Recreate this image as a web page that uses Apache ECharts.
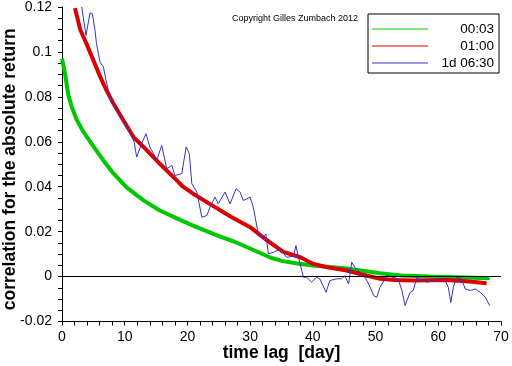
<!DOCTYPE html>
<html>
<head>
<meta charset="utf-8">
<script src="https://cdn.jsdelivr.net/npm/echarts@6/dist/echarts.min.js"></script>
<style>html,body{margin:0;padding:0;background:#fff}#c{width:512px;height:366px}</style>
</head>
<body>
<div id="c"></div>
<script>
// ---- data ----
const seriesNames = ['00:03', '01:00', '1d 06:30'];

const greenDays = [0, 0.5, 1.0, 1.5, 2.3, 3.4, 4.9, 6.6, 8.2, 10.3, 13.0, 15.6, 18.3, 20.9, 24.7, 27.5, 30.0, 33.2, 35.0, 37.5, 40.0, 45.4, 50.7, 54.0, 58.7, 63.0, 68.2];
const greenVals = [0.097, 0.090, 0.081, 0.076, 0.070, 0.0645, 0.0584, 0.0517, 0.0459, 0.0397, 0.0339, 0.0294, 0.0259, 0.0227, 0.0183, 0.0155, 0.0125, 0.0085, 0.0070, 0.0058, 0.0049, 0.0036, 0.0015, 0.0005, 0.0000, -0.0003, -0.0008];

const redDays = [2.07, 2.9, 3.9, 5.0, 6.1, 7.1, 8.2, 9.8, 11.4, 13.0, 14.0, 15.6, 18.3, 19.3, 20.9, 24.4, 27.0, 30.0, 32.5, 35.3, 38.0, 40.0, 42.5, 45.4, 48.0, 50.7, 53.0, 56.0, 61.4, 65.0, 67.7];
const redVals = [0.1195, 0.110, 0.1037, 0.0963, 0.0889, 0.0829, 0.0770, 0.0695, 0.0621, 0.0577, 0.0548, 0.0502, 0.0428, 0.0400, 0.0369, 0.0309, 0.0265, 0.0220, 0.0165, 0.0110, 0.0086, 0.0057, 0.0040, 0.0027, 0.0008, -0.0010, -0.0015, -0.0018, -0.0015, -0.0022, -0.0030];

const blueDays = [3.14, 3.83, 4.47, 4.84, 5.26, 5.5, 6.06, 6.6, 7.13, 7.66, 8.2, 9.0, 9.8, 10.5, 11.0, 11.5, 11.9, 12.7, 13.4, 14.0, 14.6, 15.1, 15.9, 16.7, 17.5, 18.0, 19.1, 19.8, 20.3, 20.7, 21.5, 22.3, 23.1, 23.6, 24.4, 24.9, 26.0, 26.8, 27.75, 28.4, 28.9, 29.5, 30.0, 30.5, 31.3, 32.1, 32.5, 32.9, 33.7, 34.8, 35.8, 36.9, 37.3, 37.7, 38.5, 39.0, 39.8, 40.6, 41.1, 42.1, 42.7, 43.8, 44.6, 45.1, 45.7, 46.2, 46.7, 47.5, 48.3, 48.9, 49.7, 50.2, 50.7, 51.8, 52.8, 53.6, 54.2, 54.7, 55.5, 56.0, 56.6, 57.4, 58.2, 59.2, 60.3, 61.1, 61.6, 62.0, 62.4, 62.9, 63.7, 64.3, 65.1, 65.9, 66.7, 67.5, 68.2];
const blueVals = [0.120, 0.1074, 0.1174, 0.117, 0.1097, 0.1037, 0.0955, 0.0933, 0.0859, 0.0800, 0.0770, 0.0730, 0.0695, 0.0655, 0.0630, 0.0600, 0.0532, 0.0592, 0.0636, 0.0577, 0.0547, 0.0517, 0.0584, 0.0480, 0.0495, 0.0450, 0.0458, 0.0577, 0.0547, 0.0413, 0.0376, 0.0264, 0.0272, 0.0309, 0.0354, 0.0324, 0.0376, 0.0324, 0.0391, 0.0376, 0.0339, 0.0346, 0.0354, 0.0309, 0.0190, 0.0175, 0.0190, 0.0101, 0.0108, 0.0123, 0.0086, 0.0090, 0.0138, 0.0086, -0.0003, -0.0003, -0.0025, -0.0003, -0.0010, -0.0070, -0.0018, -0.0010, -0.0010, 0.0004, -0.0033, 0.0064, 0.0041, 0.0019, -0.0003, -0.0033, -0.0085, -0.0092, -0.0048, 0.0004, -0.0003, -0.0010, -0.0062, -0.0129, -0.0070, -0.0062, -0.0003, -0.0018, -0.0025, -0.0018, -0.0010, -0.0018, -0.0048, -0.0115, -0.0048, -0.0003, -0.0010, -0.0055, -0.0062, -0.0055, -0.0070, -0.0092, -0.0129];

const xTickValues = [0, 10, 20, 30, 40, 50, 60, 70];
const xTickLabels = ['0', '10', '20', '30', '40', '50', '60', '70'];
const yTickValues = [-0.02, 0, 0.02, 0.04, 0.06, 0.08, 0.10, 0.12];
const yTickLabels = ['-0.02', '0', '0.02', '0.04', '0.06', '0.08', '0.1', '0.12'];

const copyrightText = 'Copyright Gilles Zumbach 2012';
const xTitle = 'time lag  [day]';
const yTitle = 'correlation for the absolute return';

// ---- chart ----
function pairs(xs, ys) { return xs.map((x, i) => [x, ys[i]]); }
function labelFor(values, labels) {
  return function (v) {
    for (let i = 0; i < values.length; i++) if (Math.abs(values[i] - v) < 1e-9) return labels[i];
    return '';
  };
}
const FONT = '"Liberation Sans", Arial, sans-serif';
const chart = echarts.init(document.getElementById('c'), null, { renderer: 'canvas' });
chart.setOption({
  animation: false,
  backgroundColor: '#fff',
  grid: { left: 62, right: 11, top: 7, bottom: 44.5, outerBoundsMode: 'none', containLabel: false },
  xAxis: {
    type: 'value', min: 0, max: 70, interval: 10,
    name: xTitle, nameLocation: 'middle', nameGap: 23, nameMoveOverlap: false,
    nameTextStyle: { fontFamily: FONT, fontSize: 17.5, fontWeight: 'bold', color: '#000' },
    axisLine: { show: true, onZero: false, lineStyle: { color: '#000', width: 1 } },
    axisTick: { show: true, inside: false, length: 4, lineStyle: { color: '#000' } },
    minorTick: { show: true, splitNumber: 5, length: 4, lineStyle: { color: '#000' } },
    splitLine: { show: false },
    axisLabel: { fontFamily: FONT, fontSize: 14, color: '#000', margin: 9, formatter: labelFor(xTickValues, xTickLabels) }
  },
  yAxis: {
    type: 'value', min: -0.02, max: 0.12, interval: 0.02,
    name: yTitle, nameLocation: 'middle', nameGap: 43, nameRotate: 90, nameMoveOverlap: false,
    nameTextStyle: { fontFamily: FONT, fontSize: 17.5, fontWeight: 'bold', color: '#000', padding: [0, 10, 0, 0] },
    axisLine: { show: true, lineStyle: { color: '#000', width: 1 } },
    axisTick: { show: true, inside: false, length: 4, lineStyle: { color: '#000' } },
    minorTick: { show: true, splitNumber: 4, length: 4, lineStyle: { color: '#000' } },
    splitLine: { show: false },
    axisLabel: { fontFamily: FONT, fontSize: 14, color: '#000', margin: 10, formatter: labelFor(yTickValues, yTickLabels) }
  },
  legend: {
    data: seriesNames,
    orient: 'vertical', left: 368, top: 14,
    padding: [8, 5, 3, 4],
    itemWidth: 56, itemHeight: 12, itemGap: 3,
    icon: 'path://M0,0L56,0L56,1.2L0,1.2Z',
    symbolKeepAspect: true,
    borderColor: '#000', borderWidth: 1, borderRadius: 0,
    backgroundColor: '#fff',
    formatter: function (n) { return '{a|' + n + '}'; },
    textStyle: {
      rich: { a: { width: 61, align: 'right', fontFamily: FONT, fontSize: 13.5, color: '#000' } }
    }
  },
  graphic: [
    { type: 'text', left: 232, top: 14, style: { text: copyrightText, font: '9px ' + FONT, fill: '#000' } }
  ],
  series: [
    {
      name: seriesNames[0], type: 'line', symbol: 'none', data: pairs(greenDays, greenVals),
      lineStyle: { color: '#00c800', width: 4 }, itemStyle: { color: '#00c800' },
      markLine: {
        silent: true, symbol: ['none', 'none'], label: { show: false },
        lineStyle: { color: '#000', type: 'solid', width: 1 },
        data: [{ yAxis: 0 }]
      }
    },
    {
      name: seriesNames[1], type: 'line', symbol: 'none', data: pairs(redDays, redVals),
      lineStyle: { color: '#dc0000', width: 4 }, itemStyle: { color: '#dc0000' }
    },
    {
      name: seriesNames[2], type: 'line', symbol: 'none', data: pairs(blueDays, blueVals),
      lineStyle: { color: '#3333c8', width: 1 }, itemStyle: { color: '#3333c8' }
    }
  ]
});
</script>
</body>
</html>
